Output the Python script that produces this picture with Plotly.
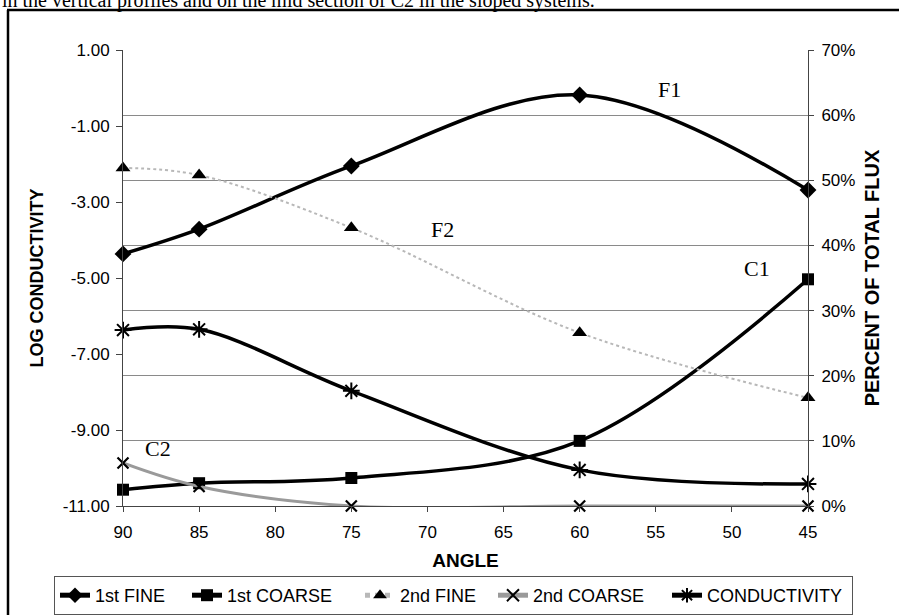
import plotly.graph_objects as go

# ---- data ----
angles = [90, 85, 75, 60, 45]
fine_1st = [38.7, 42.5, 52.2, 63.1, 48.5]          # % of total flux
coarse_1st = [2.5, 3.5, 4.3, 10.0, 34.8]           # % of total flux
fine_2nd = [51.9, 50.8, 42.7, 26.6, 16.6]          # % of total flux
coarse_2nd = [6.6, 3.0, 0.0, 0.0, 0.0]             # % of total flux
conductivity = [-6.37, -6.35, -7.97, -10.05, -10.42]  # log conductivity

x_ticks = [90, 85, 80, 75, 70, 65, 60, 55, 50, 45]
left_tickvals = [1, -1, -3, -5, -7, -9, -11]
left_ticktext = ["1.00", "-1.00", "-3.00", "-5.00", "-7.00", "-9.00", "-11.00"]
right_tickvals = [0, 10, 20, 30, 40, 50, 60, 70]
right_ticktext = ["0%", "10%", "20%", "30%", "40%", "50%", "60%", "70%"]

W, H = 899, 615
ML, MR, MT, MB = 123, 91, 50, 109
PW, PH = W - ML - MR, H - MT - MB

def px_x(px):
    return (px - ML) / PW

def px_y(py):
    return (H - MB - py) / PH

fig = go.Figure()

fig.add_trace(go.Scatter(
    x=angles, y=fine_1st, name="1st FINE", yaxis="y2", mode="lines+markers",
    line=dict(color="black", width=3.5, shape="spline", smoothing=1.0),
    marker=dict(symbol="diamond", size=13, color="black"), cliponaxis=False,
    legendwidth=87))
fig.add_trace(go.Scatter(
    x=angles, y=coarse_1st, name="1st COARSE", yaxis="y2", mode="lines+markers",
    line=dict(color="black", width=3.5, shape="spline", smoothing=1.0),
    marker=dict(symbol="square", size=12, color="black"), cliponaxis=False,
    legendwidth=128))
fig.add_trace(go.Scatter(
    x=angles, y=fine_2nd, name="2nd FINE", yaxis="y2", mode="lines+markers",
    line=dict(color="#b8b8b8", width=2, shape="spline", smoothing=1.0, dash="dot"),
    marker=dict(symbol="triangle-up", size=13, color="black"), cliponaxis=False,
    legendwidth=88))
fig.add_trace(go.Scatter(
    x=angles, y=coarse_2nd, name="2nd COARSE", yaxis="y2", mode="lines+markers",
    line=dict(color="#9a9a9a", width=3, shape="spline", smoothing=1.0),
    marker=dict(symbol="x-thin-open", size=11, color="black", line=dict(width=2.2, color="black")),
    cliponaxis=False, legendwidth=129))
fig.add_trace(go.Scatter(
    x=angles, y=conductivity, name="CONDUCTIVITY", yaxis="y", mode="lines+markers",
    line=dict(color="black", width=3.5, shape="spline", smoothing=1.0),
    marker=dict(symbol="asterisk-open", size=14, color="black", line=dict(width=2, color="black")),
    cliponaxis=False, legendwidth=140))

tick_font = dict(family="Liberation Sans, Arial", size=17, color="black")
title_font = dict(family="Liberation Sans, Arial", color="black")

fig.update_layout(
    width=W, height=H,
    margin=dict(l=ML, r=MR, t=MT, b=MB, autoexpand=False),
    paper_bgcolor="white", plot_bgcolor="white",
    showlegend=True,
    legend=dict(orientation="h", xref="paper", x=px_x(54), xanchor="left",
                yref="paper", y=px_y(576), yanchor="top",
                font=dict(family="Liberation Sans, Arial", size=18, color="black"),
                bordercolor="#555555", borderwidth=1, bgcolor="white",
                itemsizing="constant"),
    xaxis=dict(range=[90, 45], tickvals=x_ticks, ticks="outside", ticklen=5,
               tickcolor="#444", showline=True, linecolor="#444", linewidth=1,
               showgrid=False, zeroline=False, tickfont=tick_font, ticklabelstandoff=6,
               title=dict(text="<b>ANGLE</b>", font=dict(size=19, **title_font), standoff=12)),
    yaxis=dict(range=[-11, 1], tickvals=left_tickvals, ticktext=left_ticktext,
               ticks="outside", ticklen=6, tickcolor="#444", showline=True,
               linecolor="#444", linewidth=1, showgrid=False, zeroline=False,
               tickfont=tick_font, ticklabelstandoff=3,
               title=dict(text="<b>LOG CONDUCTIVITY</b>", font=dict(size=18, **title_font), standoff=14)),
    yaxis2=dict(range=[0, 70], tickvals=right_tickvals, ticktext=right_ticktext,
                overlaying="y", side="right", ticks="outside", ticklen=5,
                tickcolor="#444", showline=True, linecolor="#444", linewidth=1,
                showgrid=True, gridcolor="#8a8a8a", gridwidth=1, zeroline=False,
                tickfont=tick_font, ticklabelstandoff=4,
                title=dict(text="<b>PERCENT OF TOTAL FLUX</b>", font=dict(size=20, **title_font), standoff=10)),
)

label_font = dict(family="Liberation Serif, Times New Roman", size=22, color="black")
for txt, ax, ay in [("F1", 54.1, 63.9), ("F2", 69.0, 42.4), ("C1", 48.35, 36.5), ("C2", 87.7, 8.9)]:
    fig.add_annotation(x=ax, y=ay, xref="x", yref="y2", text=txt, showarrow=False,
                       font=label_font, xanchor="center", yanchor="middle")

# page text cut off at the top of the scan
fig.add_annotation(x=px_x(0), y=px_y(14), xref="paper", yref="paper",
                   text="in the vertical profiles and on the mid section of C2 in the sloped systems.",
                   showarrow=False, xanchor="left", yanchor="bottom",
                   font=dict(family="Liberation Serif, Times New Roman", size=20, color="black"))

# outer frame of the scanned figure
fig.add_shape(type="line", xref="paper", yref="paper", x0=px_x(8), x1=px_x(8),
              y0=px_y(10), y1=px_y(640), line=dict(color="black", width=2.5))
fig.add_shape(type="line", xref="paper", yref="paper", x0=px_x(7), x1=px_x(920),
              y0=px_y(10), y1=px_y(10), line=dict(color="black", width=2.5))

fig.write_html("out.html")
